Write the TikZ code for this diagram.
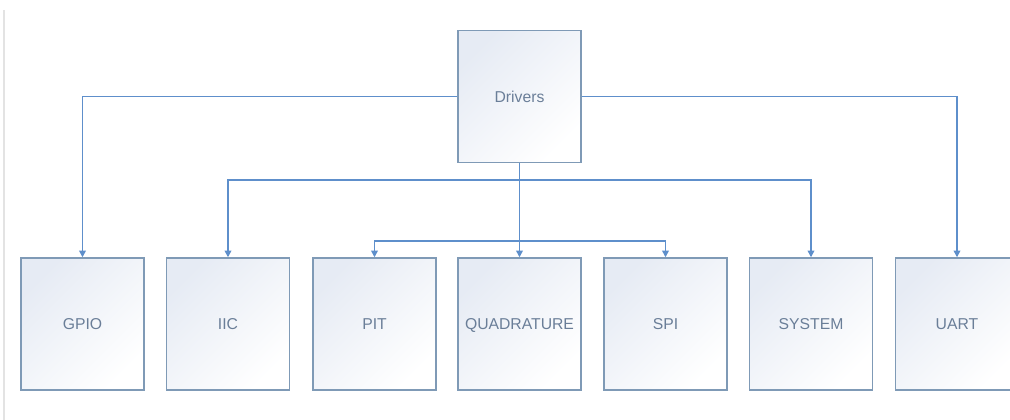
\documentclass[tikz,border=0pt]{standalone}
\usepackage{fontspec}
\setmainfont{Liberation Sans}
\usetikzlibrary{arrows.meta}
\definecolor{wire}{HTML}{5E8FCB}
\definecolor{frame}{HTML}{7F9AB6}
\definecolor{label}{HTML}{6A7E98}
\definecolor{tint}{HTML}{E6EBF4}
\tikzset{
  drv/.style ={rectangle,draw=frame,line width=1.1pt,minimum width=92.25pt,minimum height=99pt,inner sep=0pt,
               text height=8.5pt,text depth=0pt,
               font=\fontsize{11.8}{13}\selectfont,text=label,top color=tint,bottom color=white,shading angle=45},
  link/.style={wire,line width=1.1pt},
  feed/.style={link,-{Triangle[width=5pt,length=5pt]}},
  rim/.style ={gray!22,line width=0.8pt},
}
\begin{document}
\begin{tikzpicture}[x=0.75pt,y=-0.75pt]
  \clip (0,0) rectangle (1010,420);
  \draw[rim] (4,10) -- (4,420);
  \node[drv](drivers) at (519.5,96.5){Drivers};
  \foreach \name/\txt/\cx in {gpio/GPIO/82.5, iic/IIC/228, pit/PIT/374.5, quad/QUADRATURE/519.5, spi/SPI/665.5, system/SYSTEM/811, uart/UART/957}
    {\node[drv](\name) at (\cx,324){\txt};}
  % outer branches leave from the sides
  \draw[feed](drivers.west) -| (gpio.north);
  \draw[feed](drivers.east) -| (uart.north);
  % middle trunk with two buses
  \draw[feed](drivers.south) -- (quad.north);
  \coordinate (busA) at (519.5,180);
  \coordinate (busB) at (519.5,241);
  \draw[feed](busA) -| (iic.north);  \draw[feed](busA) -| (system.north);
  \draw[feed](busB) -| (pit.north);  \draw[feed](busB) -| (spi.north);
\end{tikzpicture}
\end{document}
